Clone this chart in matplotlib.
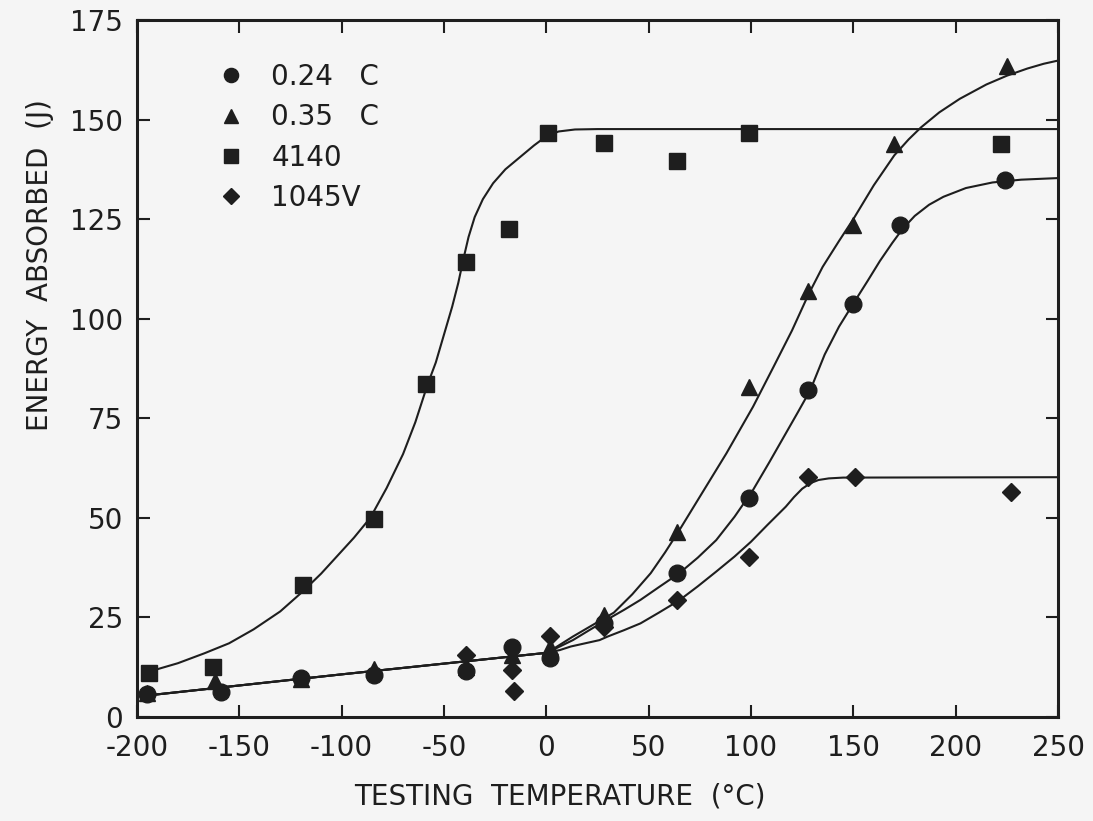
import numpy as np
import matplotlib
matplotlib.use("Agg")
import matplotlib.pyplot as plt
from matplotlib.lines import Line2D

plt.rcParams['axes.unicode_minus'] = False

c024_x = [-195, -159, -120, -84, -39, -17, 2, 28, 64, 99, 128, 150, 173, 224]
c024_y = [5.8, 6.2, 9.8, 10.5, 11.5, 17.5, 14.8, 23.5, 36.1, 54.9, 82.1, 103.6, 123.5, 134.8]

c035_x = [-195, -162, -120, -84, -39, -17, 2, 28, 64, 99, 128, 150, 170, 225]
c035_y = [6.0, 9.0, 9.5, 12.0, 12.5, 15.5, 17.5, 25.5, 46.5, 82.9, 107.0, 123.5, 143.8, 163.5]

s4140_x = [-194, -163, -119, -84, -59, -39, -18, 1, 28, 64, 99, 222]
s4140_y = [11.0, 12.6, 33.1, 49.6, 83.5, 114.3, 122.4, 146.6, 144.0, 139.6, 146.5, 143.8]

v1045_x = [-39, -17, -16, 2, 28, 64, 99, 128, 151, 227]
v1045_y = [15.6, 11.8, 6.4, 20.3, 22.5, 29.4, 40.2, 60.3, 60.3, 56.4]

# fitted curves
fit024_x = [-195, -100, 0, 5, 13, 21, 29.5, 38, 46, 55, 65, 74, 83, 92, 101, 109, 117, 123,
            129, 136, 143, 150, 157, 163, 169, 174, 180, 187, 194, 205, 218, 232, 250]
fit024_y = [5.4, 10.7, 16.1, 17.3, 19.3, 21.8, 24.4, 26.9, 29.4, 32.6, 36.1, 40.0, 44.4, 50.3,
            57.0, 64.0, 71.2, 76.6, 82.1, 91.0, 98.0, 103.8, 109.5, 114.5, 119.0, 122.5,
            125.8, 128.6, 130.6, 132.8, 134.2, 134.9, 135.3]

fit035_x = [-195, -100, 0, 5, 13, 23, 33, 42, 51, 58, 65, 75, 88, 101, 111, 120, 128, 135,
            143, 150, 160, 170, 177, 183, 192, 202, 215, 225, 235, 243, 250]
fit035_y = [5.4, 10.7, 16.1, 17.6, 20.2, 23.2, 26.2, 30.8, 36.1, 41.3, 46.9, 55.3, 66.2, 77.9,
            87.9, 97.0, 106.0, 113.0, 119.5, 125.0, 133.5, 141.0, 145.0, 148.0, 151.8, 155.2,
            158.8, 161.0, 162.8, 164.0, 164.8]

fit4140_x = [-196, -190, -180, -167, -155, -143, -130, -119, -110, -102, -94, -86, -78, -70,
             -64, -58, -54, -50, -46, -43, -40.5, -38, -35, -31, -26, -20, -13, -6, 0, 6, 14,
             25, 250]
fit4140_y = [11.3, 12.0, 13.5, 16.0, 18.5, 22.0, 26.5, 31.5, 36.0, 40.5, 45.0, 50.0, 57.5,
             66.0, 74.0, 83.5, 89.0, 96.0, 103.0, 109.0, 115.0, 120.5, 125.5, 130.0, 134.0,
             137.5, 140.5, 143.5, 145.8, 147.0, 147.5, 147.6, 147.6]

fit1045_x = [-195, -100, 0, 6.6, 12, 19, 26, 30, 38, 46, 55, 65, 74, 83, 92, 100, 108, 117,
             121, 125, 129, 133, 138, 145, 250]
fit1045_y = [5.4, 10.7, 16.1, 16.8, 17.7, 18.5, 19.3, 20.2, 21.8, 23.5, 26.2, 29.3, 32.8,
             36.5, 40.3, 44.0, 48.2, 52.8, 55.2, 57.3, 58.7, 59.5, 59.9, 60.1, 60.2]

labels = ['0.24   C', '0.35   C', '4140', '1045V']
markers = ['o', '^', 's', 'D']
msizes = [12, 12, 11.5, 9]

ink = '#1e1e1e'
paper = '#f5f5f5'

fig = plt.figure(figsize=(10.93, 8.21), dpi=100, facecolor=paper)
ax = fig.add_axes([0.1253, 0.1267, 0.8427, 0.849], facecolor=paper)

for fx, fy in [(fit024_x, fit024_y), (fit035_x, fit035_y),
               (fit4140_x, fit4140_y), (fit1045_x, fit1045_y)]:
    ax.plot(fx, fy, color=ink, lw=1.5, zorder=2, solid_joinstyle='round')

series = [(c024_x, c024_y), (c035_x, c035_y), (s4140_x, s4140_y), (v1045_x, v1045_y)]
for (x, y), m, ms in zip(series, markers, msizes):
    ax.plot(x, y, linestyle='none', marker=m, ms=ms, color=ink, mec=ink, zorder=3)

ax.set_xlim(-200, 250)
ax.set_ylim(0, 175)
ax.set_xticks(np.arange(-200, 251, 50))
ax.set_yticks(np.arange(0, 176, 25))

for s in ax.spines.values():
    s.set_linewidth(2.2)
    s.set_color(ink)
ax.tick_params(direction='in', length=9, width=1.5, color=ink,
               top=True, right=True, labelsize=20, labelcolor=ink)
ax.tick_params(axis='y', pad=10)
ax.tick_params(axis='x', pad=12)

ax.set_xlabel('TESTING  TEMPERATURE  (°C)', fontsize=20, color=ink)
ax.xaxis.set_label_coords(0.459, -0.094)
ax.set_ylabel('ENERGY  ABSORBED  (J)', fontsize=20, color=ink, va='center')
ax.yaxis.set_label_coords(-0.105, 0.648)

handles = [Line2D([], [], linestyle='none', marker=m, ms=ms * 0.85, color=ink)
           for m, ms in zip(markers, msizes)]
ax.legend(handles, labels, loc='upper left', bbox_to_anchor=(0.087, 0.938),
          frameon=False, fontsize=20, handlelength=1.0, handletextpad=0.95,
          labelspacing=0.44, borderpad=0, borderaxespad=0, labelcolor=ink)

fig.savefig('out.png', dpi=100, facecolor=paper)
